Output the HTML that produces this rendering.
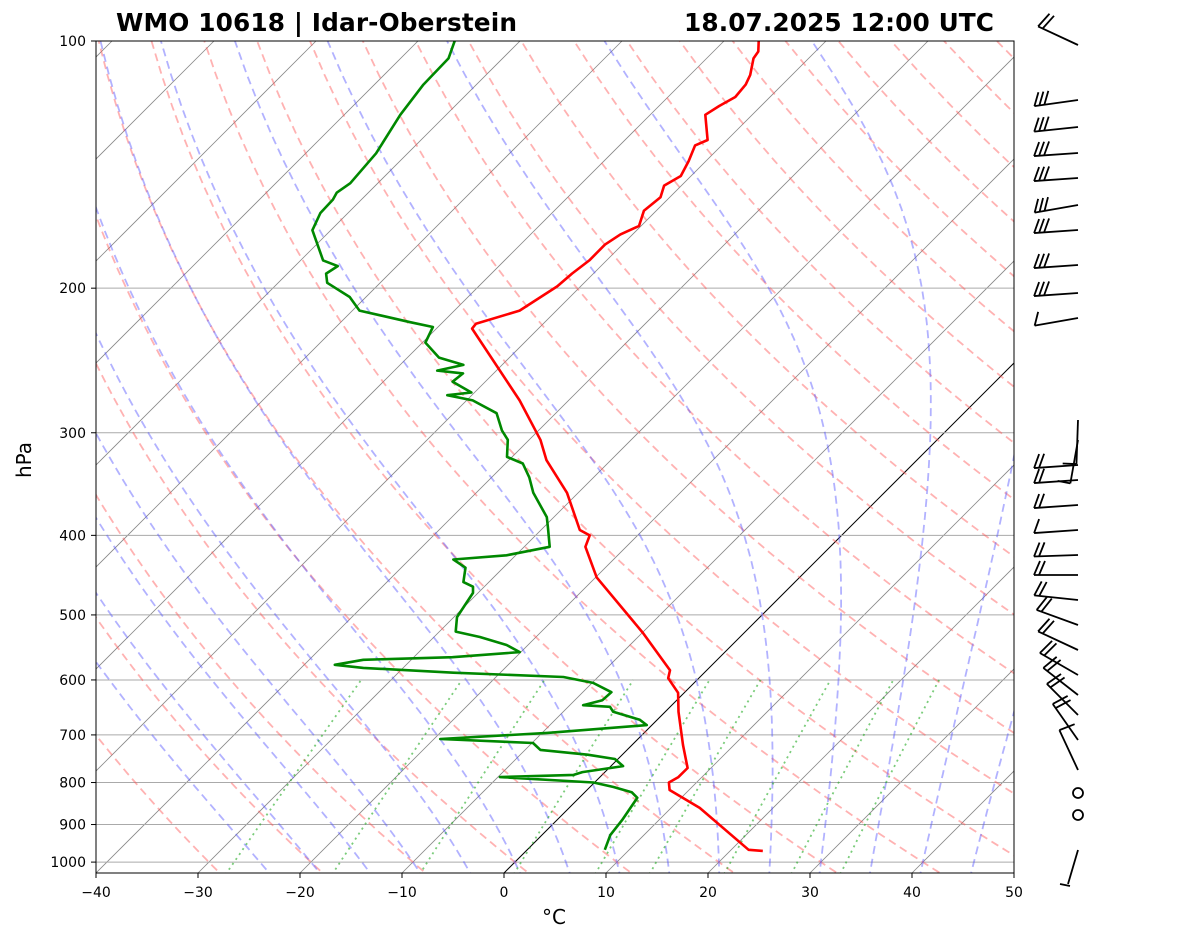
<!DOCTYPE html>
<html><head><meta charset="utf-8"><style>
body{margin:0;background:#fff;font-family:"Liberation Sans","DejaVu Sans",sans-serif}
</style></head><body>
<svg id="c" width="1181" height="941" xmlns="http://www.w3.org/2000/svg" font-family="DejaVu Sans, Liberation Sans, sans-serif">
<defs><clipPath id="cp"><rect x="96" y="41" width="918" height="832"/></clipPath></defs>
<rect x="0" y="0" width="1181" height="941" fill="#fff"/>
<text x="116" y="31" font-size="24.8" font-weight="bold" textLength="401">WMO 10618 | Idar-Oberstein</text>
<text x="684" y="31" font-size="24.8" font-weight="bold" textLength="310">18.07.2025 12:00 UTC</text>
<g id="bg" clip-path="url(#cp)"></g>
<g id="data" clip-path="url(#cp)"></g>
<rect x="96" y="41" width="918" height="832" fill="none" stroke="#000" stroke-width="1"/>
<g id="axes"></g>
<g id="barbs"></g>
<text x="554" y="924" font-size="20" text-anchor="middle">°C</text>
<text x="31" y="460" font-size="20" text-anchor="middle" transform="rotate(-90 31 460)">hPa</text>
</svg>
<script>
// ---- data (pressure hPa, temperature °C) ----
const tempP=[969,966,859,817,800,788,768,720,656,622,597,584,526,450,413,400,394,355,324,306,274,224,221,213,199,192,185,177,172,168,161,155,150,146,140,134,132,123,120,117,113,110,105,103,100];
const tempT=[23.2,21.7,12.8,8.1,7.3,7.7,7.7,5.0,1.3,-0.6,-3.0,-3.6,-9.9,-19.9,-24.0,-24.7,-26.2,-31.1,-36.3,-38.9,-44.8,-56.5,-56.6,-53.6,-52.3,-52.1,-51.7,-51.7,-51.2,-50.2,-51.2,-50.9,-51.7,-51.0,-51.7,-52.6,-51.9,-54.6,-54.1,-53.4,-53.6,-54.1,-55.4,-55.6,-56.6];
const dewP=[966,927,889,835,822,810,800,788,783,777,764,749,740,730,716,708,696,681,671,656,647,644,635,621,605,595,588,580,575,567,563,555,544,532,524,503,470,462,456,438,428,423,413,392,380,355,340,327,321,306,298,284,274,270,268,260,254,252,248,243,233,223,220,213,205,197,192,188,185,170,162,156,153,149,137,123,113,105,100];
const dewT=[7.6,6.7,6.4,5.7,4.6,2.3,-0.1,-9.8,-2.8,-2.2,1.2,-0.3,-3.4,-8.5,-9.9,-19.4,-9.5,-0.5,-1.7,-5.1,-5.9,-8.7,-7.3,-7.2,-9.9,-13.4,-24.6,-33.9,-37.0,-34.7,-26.2,-20.1,-22.1,-25.5,-28.4,-29.7,-30.5,-31.1,-32.5,-33.7,-35.7,-30.9,-27.5,-29.5,-30.7,-34.4,-36.3,-38.3,-40.5,-42.1,-43.6,-45.8,-49.4,-52.4,-50.3,-53.2,-53.0,-55.8,-53.8,-56.9,-59.7,-60.5,-63.2,-69.3,-71.6,-75.2,-76.2,-75.8,-77.8,-81.8,-82.7,-82.8,-83.1,-82.7,-83.1,-84.5,-85.2,-85.3,-86.4];
const isobars=[100,200,300,400,500,600,700,800,900,1000];
const xTicks=[-40,-30,-20,-10,0,10,20,30,40,50];
const dryTheta=[-30,-20,-10,0,10,20,30,40,50,60,70,80,90,100,110,120,130,140,150,160,170,180,190,200];
const moistT0=[-25,-20,-15,-10,-5,0,5,10,15,20,25,30,35,40,45];
const mixW=[0.0004,0.001,0.002,0.004,0.007,0.01,0.016,0.024,0.032];
// ---- scales ----
const X0=504,KX=10.2,YB=873,YT=41,KY=356.6;
function yOf(p){return YT+KY*Math.log(p/100);}
function xOf(T,p){return X0+KX*T+(YB-yOf(p));}
const NS='http://www.w3.org/2000/svg';
function mk(tag,attrs,parent){const e=document.createElementNS(NS,tag);for(const k in attrs)e.setAttribute(k,attrs[k]);parent.appendChild(e);return e;}
function ptsStr(ps,ts){return ps.map((p,i)=>xOf(ts[i],p).toFixed(1)+','+yOf(p).toFixed(1)).join(' ');}
const bg=document.getElementById('bg'),dg=document.getElementById('data'),ax=document.getElementById('axes'),bb=document.getElementById('barbs');
const pr=[];for(let p=1050;p>=100;p-=10)pr.push(p);
for(let T=-140;T<=60;T+=10){
 const l=mk('line',{x1:xOf(T,1050),y1:yOf(1050),x2:xOf(T,100),y2:yOf(100),stroke:T===0?'#000':'#888',"stroke-width":T===0?1:0.8},bg);
 
 
}
isobars.forEach(p=>{const l=mk('line',{x1:96,x2:1014,y1:yOf(p),y2:yOf(p),stroke:'#aaa',"stroke-width":1},bg);
 
 });
dryTheta.forEach(th=>{const ts=pr.map(p=>(th+273.15)*Math.pow(p/1000,0.2857)-273.15);
 const l=mk('polyline',{points:ptsStr(pr,ts),fill:'none',stroke:'#f55',"stroke-opacity":0.45,"stroke-width":1.8,"stroke-dasharray":"8,5"},bg);
 
 });
function es(T){return 6.112*Math.exp(17.67*T/(T+243.5));}
function dTdp(p,T){const Tk=T+273.15,rs=0.622*es(T)/(p-es(T)),Rd=287,Lv=2.501e6,Cp=1005;
 return (Rd*Tk+Lv*rs)/(p*(Cp+Lv*Lv*rs*0.622/(Rd*Tk*Tk)));}
moistT0.forEach(t0=>{const ps=[1050],ts=[];let T=t0;
 let p=1000;for(let i=0;i<50;i++){T+=dTdp(p,T)*1;p+=1;} ts.push(T);
 T=t0;p=1000;const up=[[1000,t0]];
 while(p>100){T-=dTdp(p,T)*2;p-=2;if(Math.round(p)%10===0)up.push([p,T]);}
 up.forEach(a=>{ps.push(a[0]);ts.push(a[1]);});
 const l=mk('polyline',{points:ptsStr(ps,ts),fill:'none',stroke:'#55f',"stroke-opacity":0.45,"stroke-width":1.8,"stroke-dasharray":"8,5"},bg);
 
 });
mixW.forEach(w=>{const ps=[],ts=[];for(let p=1050;p>=600;p-=10){const e=p*w/(0.622+w),lg=Math.log(e/6.112);ps.push(p);ts.push(243.5*lg/(17.67-lg));}
 const l=mk('polyline',{points:ptsStr(ps,ts),fill:'none',stroke:'#2a2',"stroke-opacity":0.6,"stroke-width":1.8,"stroke-dasharray":"2,4"},bg);
 
 });
const tl=mk('polyline',{points:ptsStr(tempP,tempT),fill:'none',stroke:'#f00',"stroke-width":2.6,"stroke-linejoin":"round"},dg);


const dl=mk('polyline',{points:ptsStr(dewP,dewT),fill:'none',stroke:'#080',"stroke-width":2.6,"stroke-linejoin":"round"},dg);


isobars.forEach(p=>{const y=yOf(p);mk('line',{x1:91,x2:96,y1:y,y2:y,stroke:'#000'},ax);
 const t=mk('text',{x:86,y:y+5,"font-size":14,"text-anchor":"end"},ax);t.textContent=p;
 
 });
xTicks.forEach(T=>{const x=96+(T+40)*KX;mk('line',{x1:x,x2:x,y1:873,y2:878,stroke:'#000'},ax);
 const t=mk('text',{x:x,y:897,"font-size":14,"text-anchor":"middle"},ax);t.textContent=(T<0?'\u2212'+(-T):T);
 
 });
// wind barbs
const barbY=[45,100,127,153,178,205,230,265,293,318,420,440,465,480,505,530,555,575,600,625,650,675,695,715,740,770];
const barbA=[205,172,174,176,176,170,176,176,176,170,92,100,176,176,176,176,178,180,186,200,205,210,218,225,235,245];
const barbN=[2,3,3,3,3,3,3,3,3,1,1,1,2,2,2,1,2,2,2,2,2,2,2,2,2,1];
barbY.forEach((y,i)=>{const a=barbA[i]*Math.PI/180,L=44,bx=1078,by=y;
 const sx=Math.cos(a),sy=Math.sin(a);
 const ex=bx+L*sx,ey=by+L*sy;
 const g=mk('g',{stroke:'#000',"stroke-width":1.8,fill:'none'},bb);
 
 
 mk('line',{x1:bx,y1:by,x2:ex,y2:ey},g);
 for(let k=0;k<barbN[i];k++){const px=ex-sx*k*5,py=ey-sy*k*5;
  mk('line',{x1:px,y1:py,x2:px+(-sy*14-sx*6),y2:py+(-Math.abs(sx)*14)},g);}
});
[[1078,793],[1078,815]].forEach(c=>{const e=mk('circle',{cx:c[0],cy:c[1],r:5,stroke:'#000',"stroke-width":1.8,fill:'none'},bb);
 
 });
const s1=mk('line',{x1:1078,y1:850,x2:1068,y2:884,stroke:'#000',"stroke-width":1.8},bb);


const s2=mk('line',{x1:1060,y1:884,x2:1070,y2:886,stroke:'#000',"stroke-width":1.8},bb);


</script>
</body></html>
